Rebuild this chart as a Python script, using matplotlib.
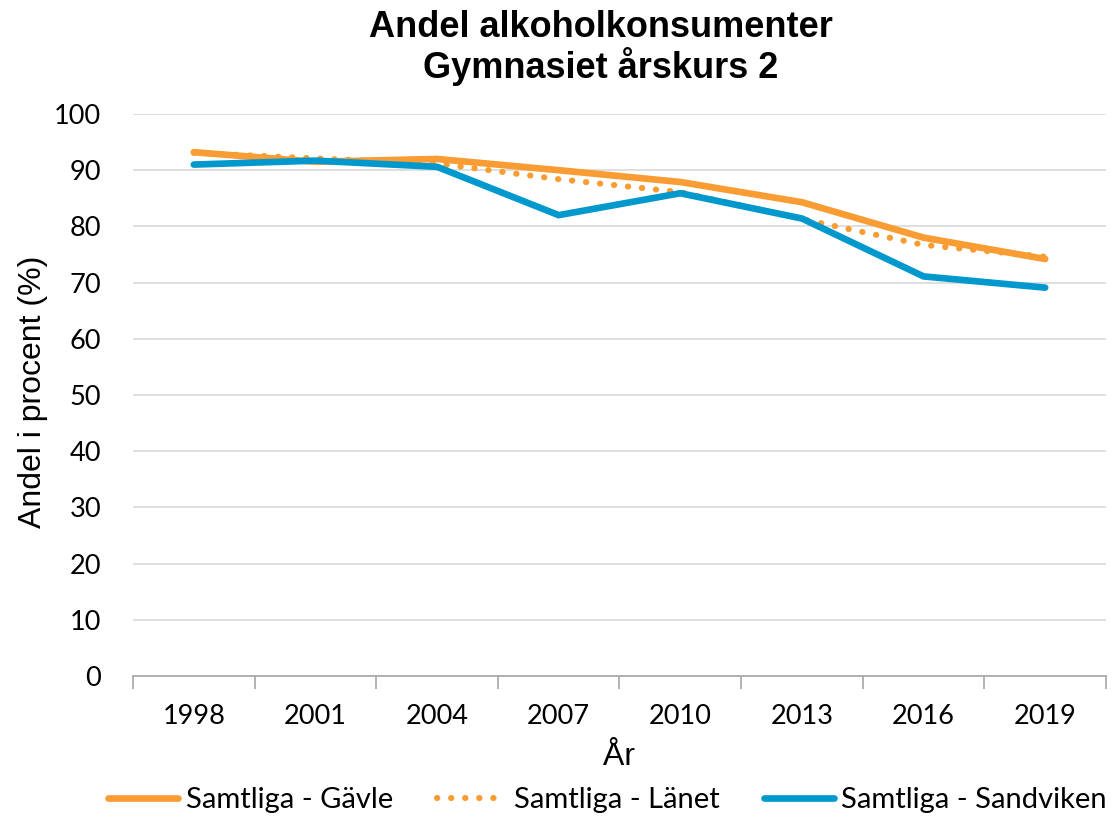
import numpy as np
import matplotlib
matplotlib.use("Agg")
import matplotlib.pyplot as plt

# ---------------- DATA ----------------
years = ["1998", "2001", "2004", "2007", "2010", "2013", "2016", "2019"]
gavle = [93.2, 91.5, 92.0, 90.0, 87.9, 84.3, 78.0, 74.2]
lanet = [93.1, 92.1, 91.2, 88.4, 86.1, 81.3, 76.7, 74.6]
sandviken = [91.0, 91.7, 90.6, 82.0, 85.9, 81.4, 71.1, 69.1]

ORANGE = "#F89C33"
BLUE = "#0098CD"

plt.rcParams["font.family"] = ["Lato", "DejaVu Sans"]

fig = plt.figure(figsize=(11.12, 8.16), dpi=100)
ax = fig.add_axes([0.1196, 0.1716, 0.8750, 0.6887])

x = np.arange(len(years))
ax.plot(x, gavle, color=ORANGE, lw=4.8, solid_capstyle="round",
        label="Samtliga - Gävle", zorder=3)
ax.plot(x, lanet, color=ORANGE, lw=4.4, linestyle=(0, (0.05, 2.25)),
        dash_capstyle="round", label="Samtliga - Länet", zorder=3)
ax.plot(x, sandviken, color=BLUE, lw=4.8, solid_capstyle="round",
        label="Samtliga - Sandviken", zorder=4)

# ---------------- AXES ----------------
ax.set_ylim(0, 100)
ax.set_yticks(range(0, 101, 10))
ax.yaxis.grid(True, color="#D9D9D9", lw=1.2)
ax.set_axisbelow(True)
ax.tick_params(axis="y", length=0, labelsize=19.5, pad=23)

ax.set_xlim(-0.5, len(years) - 0.5)
ax.set_xticks(np.arange(-0.5, len(years)), labels=[])
ax.set_xticks(x, labels=years, minor=True)
ax.tick_params(axis="x", which="major", length=9, color="#A6A6A6", width=1.2)
ax.tick_params(axis="x", which="minor", length=0, labelsize=19.5, pad=20)

for s in ["top", "right", "left"]:
    ax.spines[s].set_visible(False)
ax.spines["bottom"].set_color("#A6A6A6")
ax.spines["bottom"].set_linewidth(1.2)

ax.set_ylabel("Andel i procent (%)", fontsize=23, family="Liberation Sans")
ax.yaxis.set_label_coords(-0.103, 0.505)
ax.yaxis.label.set_va("center")
ax.set_xlabel("År", fontsize=23, family="Liberation Sans")
ax.xaxis.set_label_coords(0.5, -0.145)
ax.xaxis.label.set_va("center")

fig.text(0.54, 1 - 10 / 816, "Andel alkoholkonsumenter\nGymnasiet årskurs 2",
         ha="center", va="top", fontsize=26, fontweight="bold",
         family="Liberation Sans", linespacing=1.08)

ax.legend(loc="center", bbox_to_anchor=(0.5 - 12 / 973, (676 - 800) / 562),
          ncol=3, frameon=False, fontsize=21, handlelength=2.4,
          handletextpad=0.25, columnspacing=1.5, borderaxespad=0,
          borderpad=0)

plt.savefig("out.png", dpi=100)
